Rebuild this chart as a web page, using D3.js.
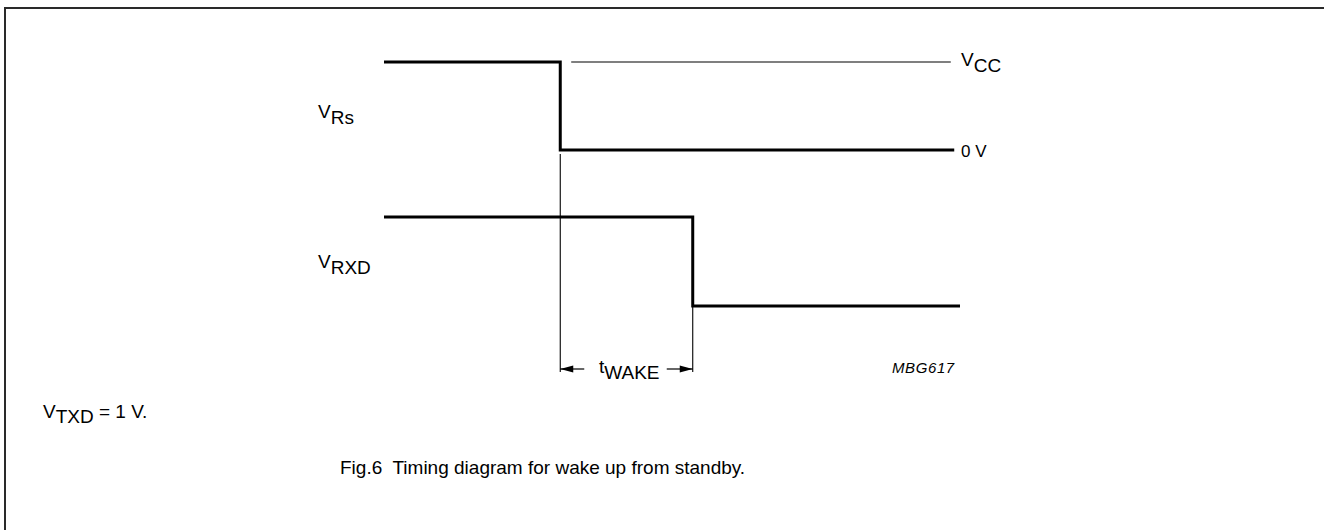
<!DOCTYPE html>
<html>
<head>
<meta charset="utf-8">
<script src="https://cdn.jsdelivr.net/npm/d3@7"></script>
<style>
  html, body { margin: 0; padding: 0; background: #fff; overflow: hidden; }
  svg { display: block; font-family: "Liberation Sans", Arial, Helvetica, sans-serif; }
  text { white-space: pre; }
</style>
</head>
<body>
<svg id="chart" width="1324" height="530"></svg>
<script>
// ---- data (time in arbitrary units 0..100, levels 1 = high, 0 = low) ----
const signals = ["VRs", "VRXD"];
const vrsTimes  = [0, 30.6, 30.6, 99.0];
const vrsLevels = [1, 1, 0, 0];
const vrxdTimes  = [0, 53.6, 53.6, 100];
const vrxdLevels = [1, 1, 0, 0];
const vccTimes = [32.5, 98.4];     // thin V_CC reference line
const wakeStart = 30.6;            // t_WAKE begins (VRs falls)
const wakeEnd = 53.6;              // t_WAKE ends (VRXD falls)
const levelLabels = ["VCC", "0 V"];
const titleText = "Fig.6  Timing diagram for wake up from standby.";
const noteText = ["V", "TXD", " = 1 V."];
const figCode = "MBG617";

const svg = d3.select("#chart");

// frame
svg.append("path")
  .attr("d", "M5,531 L5,8 L1325,8")
  .attr("fill", "none").attr("stroke", "#2a2a2a").attr("stroke-width", 2);

// scales
const x = d3.scaleLinear().domain([0, 100]).range([384, 960]);
const yRs = d3.scaleLinear().domain([0, 1]).range([150, 62]);
const yRxd = d3.scaleLinear().domain([0, 1]).range([306, 217]);

const line = (ys) => d3.line().x(d => x(d[0])).y(d => ys(d[1])).curve(d3.curveLinear);

// thin V_CC reference
svg.append("path")
  .attr("d", line(yRs)(vccTimes.map(t => [t, 1])))
  .attr("fill", "none").attr("stroke", "#000").attr("stroke-width", 1.2);

// thin timing marker lines
svg.append("line")
  .attr("x1", x(wakeStart)).attr("x2", x(wakeStart))
  .attr("y1", yRs(0) + 4).attr("y2", 372)
  .attr("stroke", "#000").attr("stroke-width", 1.1);
svg.append("line")
  .attr("x1", x(wakeEnd)).attr("x2", x(wakeEnd))
  .attr("y1", yRxd(0)).attr("y2", 372)
  .attr("stroke", "#000").attr("stroke-width", 1.1);

// signal waveforms
svg.append("path")
  .attr("d", line(yRs)(vrsTimes.map((t, i) => [t, vrsLevels[i]])))
  .attr("fill", "none").attr("stroke", "#000").attr("stroke-width", 3)
  .attr("stroke-linejoin", "miter");
svg.append("path")
  .attr("d", line(yRxd)(vrxdTimes.map((t, i) => [t, vrxdLevels[i]])))
  .attr("fill", "none").attr("stroke", "#000").attr("stroke-width", 3)
  .attr("stroke-linejoin", "miter");

// signal names
function subLabel(xp, yp, main, sub, size) {
  const t = svg.append("text").attr("x", xp).attr("y", yp)
    .attr("font-size", size).attr("fill", "#000");
  t.append("tspan").text(main);
  t.append("tspan").attr("dy", 6).text(sub);
  return t;
}
subLabel(318, 118, "V", "Rs", 19);
subLabel(318, 268, "V", "RXD", 19);

// level labels
subLabel(961, 66, "V", levelLabels[0].slice(1), 19);
svg.append("text").attr("x", 961).attr("y", 157).attr("font-size", 17)
  .text(levelLabels[1]);

// t_WAKE arrows
const ay = 369;
const xa = x(wakeStart), xb = x(wakeEnd);
svg.append("line").attr("x1", xa).attr("x2", xa + 24).attr("y1", ay).attr("y2", ay)
  .attr("stroke", "#000").attr("stroke-width", 1.2);
svg.append("path").attr("d", `M${xa},${ay} L${xa + 13},${ay - 3.5} L${xa + 13},${ay + 3.5} Z`).attr("fill", "#000");
svg.append("line").attr("x1", xb - 26).attr("x2", xb).attr("y1", ay).attr("y2", ay)
  .attr("stroke", "#000").attr("stroke-width", 1.2);
svg.append("path").attr("d", `M${xb},${ay} L${xb - 13},${ay - 3.5} L${xb - 13},${ay + 3.5} Z`).attr("fill", "#000");
const tw = svg.append("text").attr("x", 599).attr("y", 373).attr("font-size", 19);
tw.append("tspan").text("t");
tw.append("tspan").attr("dy", 6).text("WAKE");

// figure code
svg.append("text").attr("x", 892).attr("y", 373).attr("font-size", 15)
  .attr("font-style", "italic").attr("letter-spacing", 0.6).text(figCode);

// note
const nt = svg.append("text").attr("x", 43).attr("y", 418).attr("font-size", 19);
nt.append("tspan").text(noteText[0]);
nt.append("tspan").attr("dy", 5).text(noteText[1]);
nt.append("tspan").attr("dy", -5).text(noteText[2]);

// title
svg.append("text").attr("x", 340).attr("y", 474).attr("font-size", 19).text(titleText);
</script>
</body>
</html>
